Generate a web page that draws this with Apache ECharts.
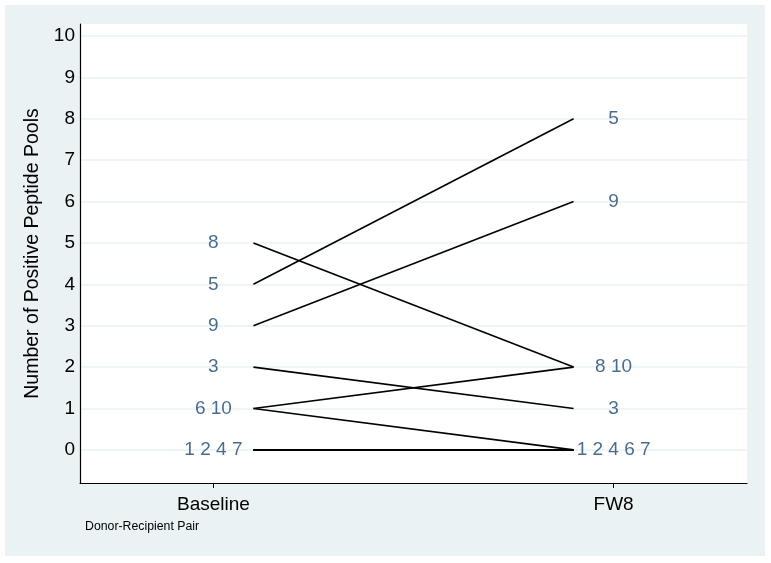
<!DOCTYPE html>
<html>
<head>
<meta charset="utf-8">
<script src="https://cdn.jsdelivr.net/npm/echarts@6/dist/echarts.min.js"></script>
<style>
html,body{margin:0;padding:0;background:#ffffff;}
#chart{width:771px;height:563px;}
</style>
</head>
<body>
<div id="chart"></div>
<script>
// ---- data ----
var timepoints = ["Baseline", "FW8"];
var pairIds      = [1, 2, 3, 4, 5, 6, 7, 8, 9, 10];
var baselinePools = [0, 0, 2, 0, 4, 1, 0, 5, 3, 1];
var fw8Pools      = [0, 0, 1, 0, 8, 0, 0, 2, 6, 2];
var yTicks = [0, 1, 2, 3, 4, 5, 6, 7, 8, 9, 10];
var baselineLabelText  = ["1 2 4 7", "6 10", "3", "9", "5", "8"];
var baselineLabelValue = [0, 1, 2, 3, 4, 5];
var fw8LabelText  = ["1 2 4 6 7", "3", "8 10", "9", "5"];
var fw8LabelValue = [0, 1, 2, 6, 8];

// ---- build ----
var FONT = 'Liberation Sans, Arial, sans-serif';
var GAP = 0.1; // line offset from category position
var lineSeries = pairIds.map(function (id, i) {
  return {
    type: 'line',
    name: 'pair ' + id,
    data: [[1 + GAP, baselinePools[i]], [2 - GAP, fw8Pools[i]]],
    symbol: 'none',
    lineStyle: {color: '#000000', width: 1.6},
    silent: true,
    z: 3
  };
});

function labelSeries(x, texts, vals) {
  return {
    type: 'scatter',
    symbolSize: 0,
    data: texts.map(function (t, i) { return {value: [x, vals[i]], name: t}; }),
    label: {
      show: true,
      position: 'inside',
      formatter: function (p) { return p.name; },
      color: '#1a476f',
      fontSize: 19,
      fontFamily: FONT
    },
    silent: true,
    z: 4
  };
}

var chart = echarts.init(document.getElementById('chart'), null, {renderer: 'canvas'});
chart.setOption({
  animation: false,
  backgroundColor: '#ffffff',
  graphic: [
    {type: 'rect', shape: {x: 5, y: 5, width: 760, height: 551}, style: {fill: '#eaf2f3'}, z: -10, silent: true},
    {type: 'rect', shape: {x: 80, y: 24, width: 667, height: 459}, style: {fill: '#ffffff'}, z: -9, silent: true},
    {type: 'text', left: 85, top: 521, style: {text: 'Donor-Recipient Pair', fontSize: 12.3, fill: '#000000', fontFamily: FONT}}
  ],
  grid: {left: 80, top: 24, width: 667, height: 459, containLabel: false},
  xAxis: {
    type: 'value',
    min: 2 / 3,
    max: 7 / 3,
    axisLine: {show: true, onZero: false, lineStyle: {color: '#000000', width: 1.2}},
    axisTick: {show: true, length: 5, customValues: [1, 2], lineStyle: {color: '#000000'}},
    axisLabel: {
      customValues: [1, 2],
      formatter: function (v) { return Math.abs(v - 1) < 1e-6 ? timepoints[0] : timepoints[1]; },
      color: '#000000',
      fontSize: 19,
      margin: 12,
      fontFamily: FONT
    },
    splitLine: {show: false}
  },
  yAxis: {
    type: 'value',
    min: -0.8,
    max: 10.29,
    name: 'Number of Positive Peptide Pools',
    nameLocation: 'middle',
    nameGap: 34,
    nameTextStyle: {color: '#000000', fontSize: 19.5, fontFamily: FONT},
    axisLine: {show: true, lineStyle: {color: '#000000', width: 1.2}},
    axisTick: {show: false, customValues: yTicks},
    axisLabel: {
      customValues: yTicks,
      color: '#000000',
      fontSize: 19,
      margin: 5,
      fontFamily: FONT
    },
    splitLine: {show: true, lineStyle: {color: '#eaf2f3', width: 1.5}}
  },
  series: lineSeries.concat([
    labelSeries(1, baselineLabelText, baselineLabelValue),
    labelSeries(2, fw8LabelText, fw8LabelValue)
  ])
});
</script>
</body>
</html>
